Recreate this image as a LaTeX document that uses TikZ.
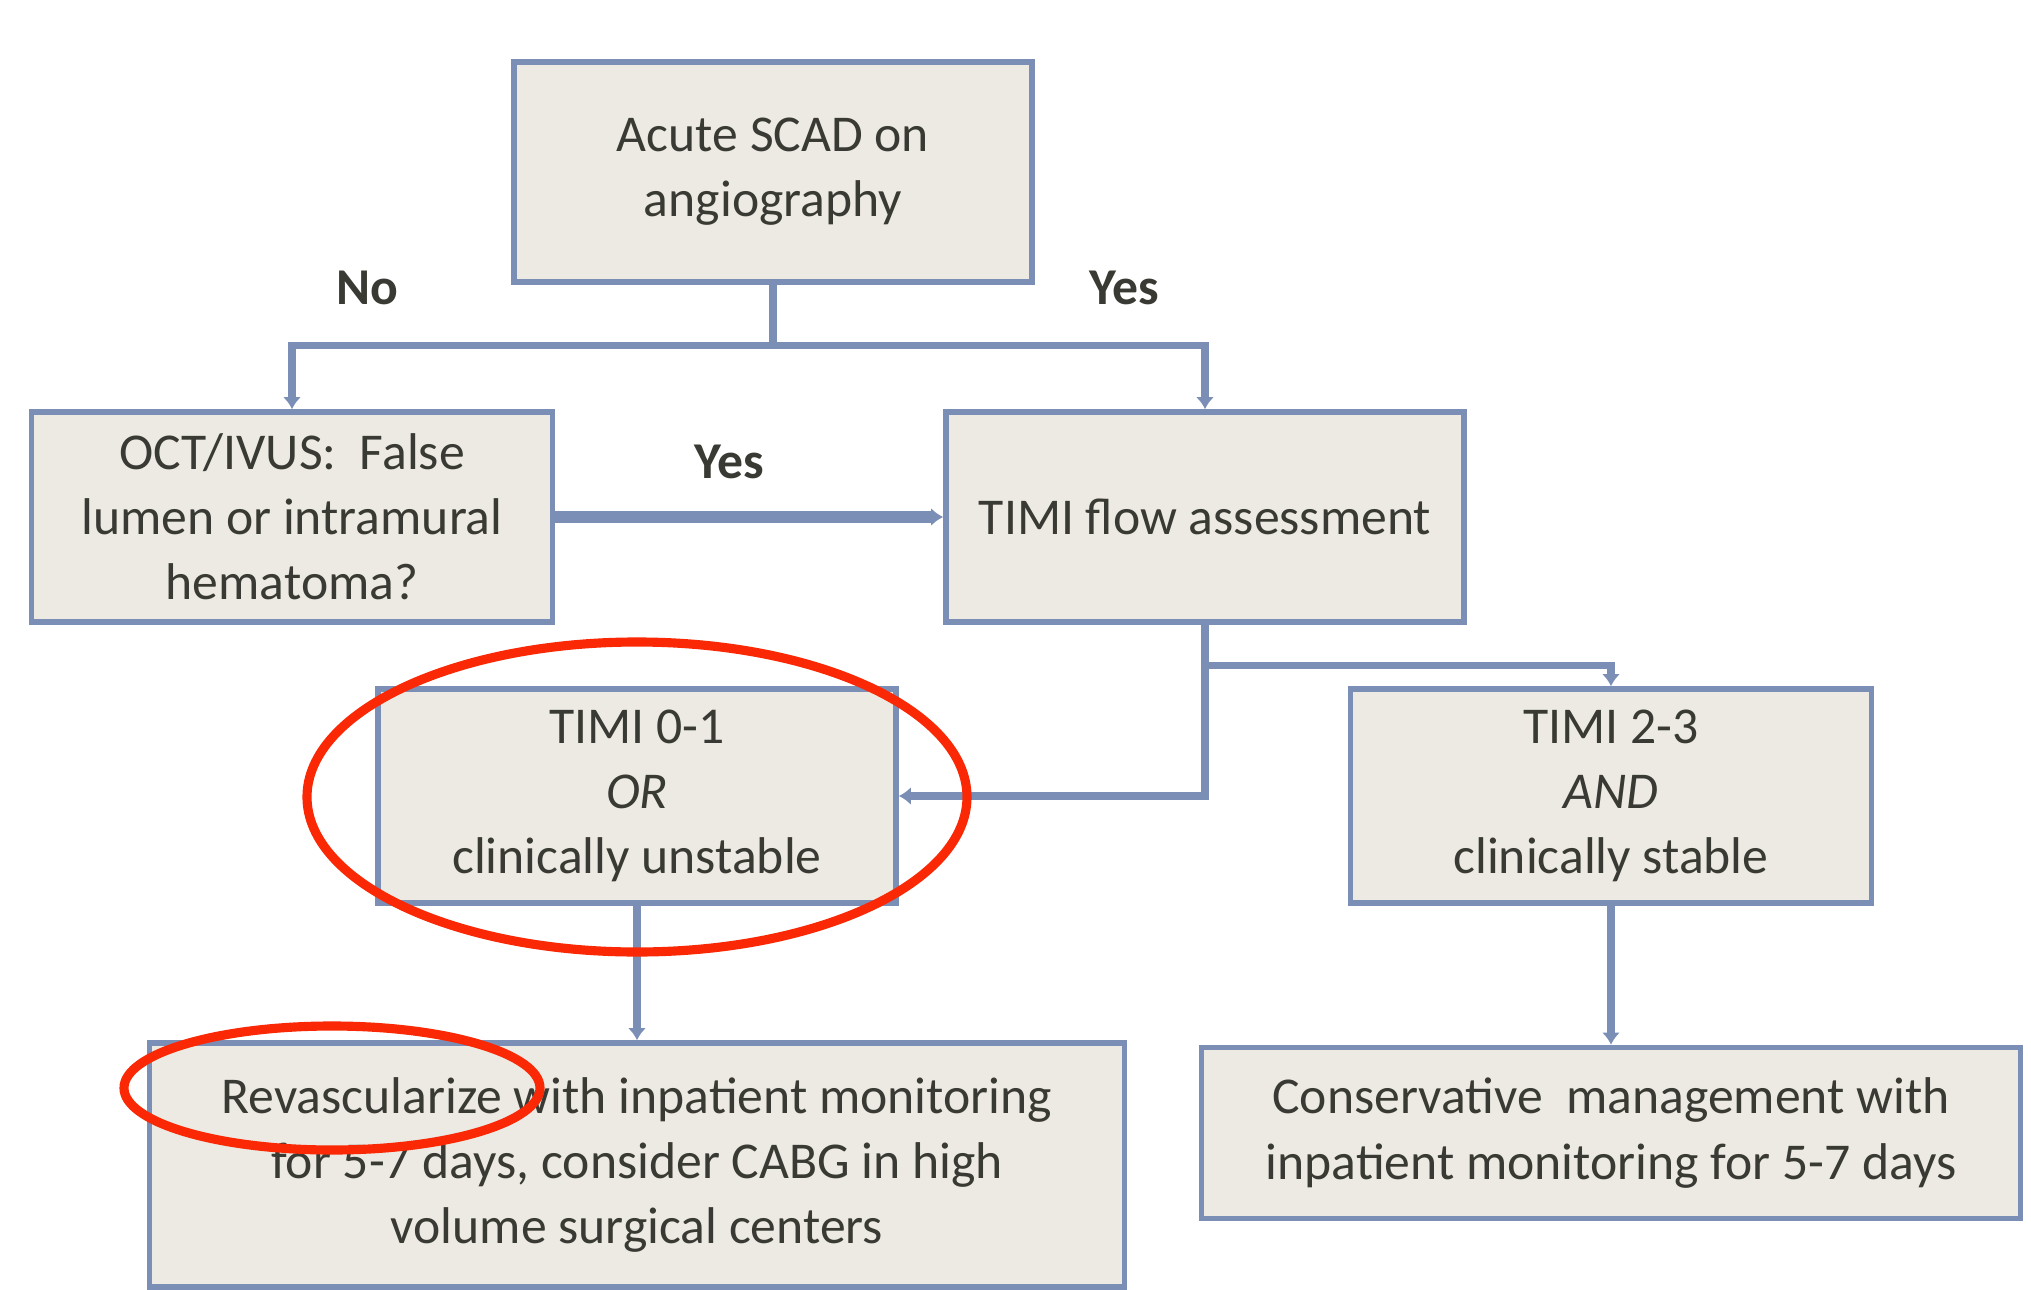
\documentclass[tikz,border=0pt]{standalone}
\usepackage{fontspec}
\setmainfont{Carlito}
\usepackage{tikz}
\usetikzlibrary{shapes.geometric,arrows.meta}

\definecolor{boxline}{RGB}{122,142,182}
\definecolor{boxfill}{RGB}{236,234,226}
\definecolor{boxtext}{RGB}{58,58,52}
\definecolor{ringred}{RGB}{250,40,5}

\begin{document}
\begin{tikzpicture}
      [
      box/.style={draw=boxline,fill=boxfill,line width=1.6pt,rectangle,align=center,inner sep=0pt,text=boxtext,font=\fontsize{14.7}{18.5}\selectfont},
      answer/.style={text=boxtext,font=\fontsize{14.7}{18.5}\selectfont\bfseries},
      conn/.style={draw=boxline,line width=2pt,-{Latex[length=1.2mm,width=1.8mm]}},
      ring/.style={ellipse,draw=ringred,line width=2.6pt,inner sep=0pt}
      ]
      \useasboundingbox (0,0) rectangle (20.31,-12.90);
      \node (scad) at (7.73,-1.72) [box,minimum width=5.18cm,minimum height=2.20cm] {Acute SCAD on\\angiography};
      \node (oct) at (2.92,-5.17) [box,minimum width=5.21cm,minimum height=2.10cm] {OCT/IVUS:\ \ False\\lumen or intramural\\hematoma?};
      \node (flow) at (12.05,-5.17) [box,minimum width=5.18cm,minimum height=2.10cm] {TIMI flow assessment};
      \node (t01) at (6.37,-7.96) [box,minimum width=5.18cm,minimum height=2.14cm] {TIMI 0-1\\\textit{OR}\\clinically unstable};
      \node (t23) at (16.11,-7.96) [box,minimum width=5.21cm,minimum height=2.14cm] {TIMI 2-3\\\textit{AND}\\clinically stable};
      \node (revasc) at (6.37,-11.65) [box,minimum width=9.75cm,minimum height=2.44cm] {Revascularize with inpatient monitoring\\for 5-7 days, consider CABG in high\\volume surgical centers};
      \node (cons) at (16.11,-11.33) [box,minimum width=8.19cm,minimum height=1.71cm] {Conservative\ \ management with\\inpatient monitoring for 5-7 days};
      \node (no) at (3.67,-2.88) [answer] {No};
      \node (yes1) at (11.24,-2.88) [answer] {Yes};
      \node (yes2) at (7.29,-4.62) [answer] {Yes};
      \draw [conn] (scad.south) -- ++(0,-0.61) -| (oct.north);
      \draw [conn] (scad.south) -- ++(0,-0.61) -| (flow.north);
      \draw [conn,line width=3.4pt] (oct.east) -- (flow.west);
      \draw [conn] (flow.south) |- (t01.east);
      \draw [conn] (flow.south) -- ++(0,-0.41) -| (t23.north);
      \draw [conn] (t01.south) -- (revasc.north);
      \draw [conn] (t23.south) -- (cons.north);
      \node (ring1) at (6.37,-7.97) [ring,minimum width=6.60cm,minimum height=3.10cm] {};
      \node (ring2) at (3.32,-10.88) [ring,minimum width=4.16cm,minimum height=1.24cm] {};
    \end{tikzpicture}
\end{document}
